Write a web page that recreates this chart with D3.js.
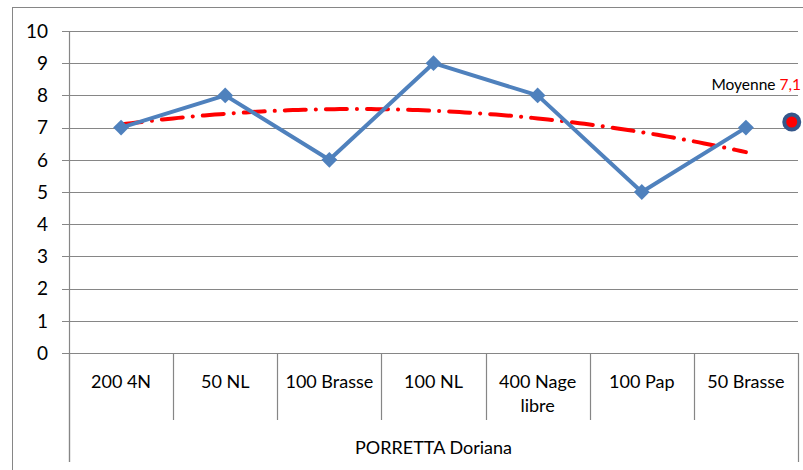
<!DOCTYPE html>
<html>
<head>
<meta charset="utf-8">
<script src="https://cdn.jsdelivr.net/npm/d3@7"></script>
<style>
  body { margin: 0; background: #fff; }
  svg text { font-family: Lato, "Open Sans", sans-serif; fill: #000; }
</style>
</head>
<body>
<script>
// data
const categories = ["200 4N", "50 NL", "100 Brasse", "100 NL", "400 Nage libre", "100 Pap", "50 Brasse"];
const notes = [7, 8, 6, 9, 8, 5, 7];
const yTicks = [0, 1, 2, 3, 4, 5, 6, 7, 8, 9, 10];
const groupLabel = "PORRETTA Doriana";
const moyenneLabel = "Moyenne ";
const moyenneValue = "7,1";
const moyennePos = 6.44; // position on category index axis

let width = 803;
let height = 470;
let plotL = 69, plotR = 798, plotT = 31, plotB = 353;

const svg = d3.select("body").append("svg")
  .attr("width", width)
  .attr("height", height);

// outer chart border
svg.append("rect")
  .attr("x", 12.5).attr("y", 7.5)
  .attr("width", 800).attr("height", 480)
  .attr("fill", "none").attr("stroke", "#868686").attr("stroke-width", 1);

let x = d3.scaleBand(categories, [plotL, plotR]).padding(0);
let xi = d3.scaleLinear([-0.5, categories.length - 0.5], [plotL, plotR]);
let y = d3.scaleLinear([0, 10], [plotB, plotT]);

// gridlines
svg.append("g")
  .selectAll("line")
  .data(yTicks)
  .enter()
  .append("line")
  .attr("x1", plotL - 7).attr("x2", plotR)
  .attr("y1", d => Math.round(y(d)) + 0.5)
  .attr("y2", d => Math.round(y(d)) + 0.5)
  .attr("stroke", "#868686").attr("stroke-width", 1.2);

// y axis line
svg.append("line")
  .attr("x1", plotL + 0.5).attr("x2", plotL + 0.5)
  .attr("y1", plotT).attr("y2", 462)
  .attr("stroke", "#868686").attr("stroke-width", 1.2);

// y labels
svg.append("g")
  .selectAll("text")
  .data(yTicks)
  .enter()
  .append("text")
  .attr("x", 48)
  .attr("y", d => y(d))
  .attr("dy", "0.36em")
  .attr("text-anchor", "end")
  .style("font-size", "19px")
  .text(d => d);

// category separators
const bounds = categories.map(c => x(c)).concat([plotR]);
svg.append("g")
  .selectAll("line")
  .data(bounds)
  .enter()
  .append("line")
  .attr("x1", d => Math.round(d) + 0.5).attr("x2", d => Math.round(d) + 0.5)
  .attr("y1", plotB)
  .attr("y2", (d, i) => (i === 0 || i === bounds.length - 1) ? 462 : 420)
  .attr("stroke", "#868686").attr("stroke-width", 1.2);

// category labels (wrap labels of more than two words)
svg.append("g")
  .selectAll("text")
  .data(categories)
  .enter()
  .append("text")
  .attr("x", d => x(d) + x.bandwidth() / 2)
  .attr("y", 388)
  .attr("text-anchor", "middle")
  .style("font-size", "18px")
  .each(function(d) {
    const t = d3.select(this);
    const w = d.split(" ");
    const lines = w.length > 2 ? [w.slice(0, 2).join(" "), w.slice(2).join(" ")] : [d];
    lines.forEach((l, i) => {
      t.append("tspan")
        .attr("x", x(d) + x.bandwidth() / 2)
        .attr("dy", i === 0 ? 0 : 24)
        .text(l);
    });
  });

svg.append("text")
  .attr("x", (plotL + plotR) / 2)
  .attr("y", 454)
  .attr("text-anchor", "middle")
  .style("font-size", "18px")
  .text(groupLabel);

// polynomial (order 2) trendline, least squares on the series
const n = notes.length;
const xs = notes.map((d, i) => i);
const mx = d3.mean(xs), my = d3.mean(notes);
const tc = xs.map(v => v - mx);
const mt2 = d3.mean(tc, v => v * v);
const b = d3.sum(tc, (v, i) => v * notes[i]) / d3.sum(tc, v => v * v);
const q = tc.map(v => v * v - mt2);
const c = d3.sum(q, (v, i) => v * notes[i]) / d3.sum(q, v => v * v);
const trend = d3.range(0, n - 1 + 0.001, 0.05).map(v => {
  const tv = v - mx;
  return [v, my + b * tv + c * (tv * tv - mt2)];
});

svg.append("path")
  .datum(trend)
  .attr("fill", "none")
  .attr("stroke", "#FF0000")
  .attr("stroke-width", 4)
  .attr("stroke-linecap", "round")
  .attr("stroke-dasharray", "21 10 0.1 10")
  .attr("d", d3.line().x(d => xi(d[0])).y(d => y(d[1])));

// series line
svg.append("path")
  .datum(notes)
  .attr("fill", "none")
  .attr("stroke", "#4F81BD")
  .attr("stroke-width", 4)
  .attr("stroke-linejoin", "round")
  .attr("d", d3.line().x((d, i) => xi(i)).y(d => y(d)));

svg.append("g")
  .selectAll("path")
  .data(notes)
  .enter()
  .append("path")
  .attr("transform", (d, i) => "translate(" + xi(i) + "," + y(d) + ")")
  .attr("d", d3.symbol(d3.symbolDiamond2, 160))
  .attr("fill", "#4F81BD");

// moyenne point
const moy = d3.mean(notes);
svg.append("circle")
  .attr("cx", xi(moyennePos)).attr("cy", y(moy) - 1)
  .attr("r", 7.5)
  .attr("fill", "#FF0000")
  .attr("stroke", "#35568A").attr("stroke-width", 4);

const lab = svg.append("text")
  .attr("x", 801)
  .attr("y", 90)
  .attr("text-anchor", "end")
  .style("font-size", "15.5px");
lab.append("tspan").text(moyenneLabel);
lab.append("tspan").style("fill", "#FF0000").text(moyenneValue);
</script>
</body>
</html>
